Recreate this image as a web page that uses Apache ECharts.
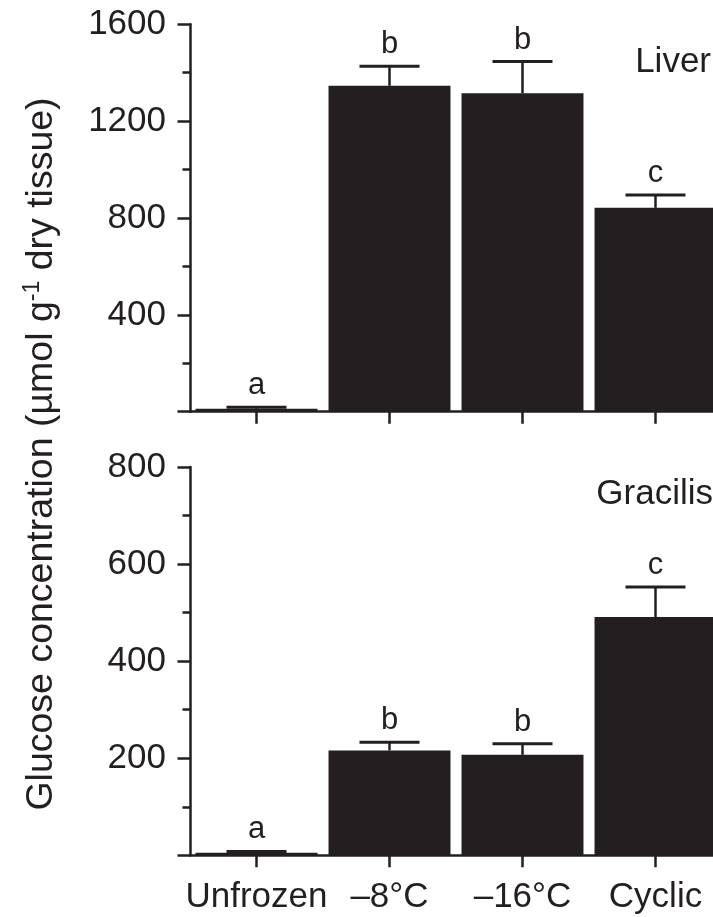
<!DOCTYPE html>
<html>
<head>
<meta charset="utf-8">
<script src="https://cdn.jsdelivr.net/npm/echarts@6/dist/echarts.min.js"></script>
<style>
html,body{margin:0;padding:0;background:#fff;}
#chart{width:713px;height:917px;}
</style>
</head>
<body>
<div id="chart"></div>
<script>
const categories = ['Unfrozen', '\u20138\u00b0C', '\u201316\u00b0C', 'Cyclic'];
const liverMean = [12, 1346, 1315, 842];
const liverErr = [6, 81, 131, 53];
const liverLetters = ['a', 'b', 'b', 'c'];
const gracilisMean = [5, 216, 207, 491];
const gracilisErr = [3, 17, 23, 62];
const gracilisLetters = ['a', 'b', 'b', 'c'];
const liverAxis = {min: 0, max: 1600, interval: 400};
const gracilisAxis = {min: 0, max: 800, interval: 200};

const INK = '#231f20';
const FONT = '"Liberation Sans", Arial, Helvetica, sans-serif';

function errRender(letters) {
  return function (params, api) {
    const i = api.value(0), m = api.value(1), e = api.value(2);
    const base = api.coord([i, m]);
    const top = api.coord([i, m + e]);
    const half = 30;
    return {
      type: 'group',
      children: [
        {type: 'line', shape: {x1: top[0], y1: base[1], x2: top[0], y2: top[1]},
         style: {stroke: INK, lineWidth: 2.5}},
        {type: 'line', shape: {x1: top[0] - half, y1: top[1], x2: top[0] + half, y2: top[1]},
         style: {stroke: INK, lineWidth: 3}},
        {type: 'text', x: top[0], y: top[1] - 6,
         style: {text: letters[i], fill: INK, fontSize: 31, fontFamily: FONT,
                 align: 'center', verticalAlign: 'bottom'}}
      ]
    };
  };
}

function yAxisCfg(gridIndex, ax) {
  return {
    type: 'value', gridIndex: gridIndex, min: ax.min, max: ax.max, interval: ax.interval,
    axisLine: {show: true, lineStyle: {color: INK, width: 2.5}},
    axisTick: {show: true, inside: false, length: 12.5, lineStyle: {color: INK, width: 2.5}},
    minorTick: {show: true, splitNumber: 2, length: 7.5, lineStyle: {color: INK, width: 2.5}},
    splitLine: {show: false},
    minorSplitLine: {show: false},
    axisLabel: {show: true, margin: 24, color: INK, fontSize: 35, fontFamily: FONT,
                formatter: function (v) { return v === 0 ? '' : String(v); }}
  };
}

function xAxisCfg(gridIndex, showLabels) {
  return {
    type: 'category', gridIndex: gridIndex, data: categories,
    axisLine: {show: true, lineStyle: {color: INK, width: 2.5}},
    axisTick: {show: true, alignWithLabel: true, inside: false, length: 12, lineStyle: {color: INK, width: 2.5}},
    splitLine: {show: false},
    axisLabel: {show: showLabels, interval: 0, margin: 25, color: INK, fontSize: 35, fontFamily: FONT}
  };
}

const chart = echarts.init(document.getElementById('chart'), null, {renderer: 'canvas'});
chart.setOption({
  animation: false,
  backgroundColor: '#ffffff',
  textStyle: {fontFamily: FONT, color: INK},
  grid: [
    {left: 190, top: 24.3, width: 532, height: 387.4, containLabel: false, outerBoundsMode: 'none'},
    {left: 190, top: 467, width: 532, height: 388.3, containLabel: false, outerBoundsMode: 'none'}
  ],
  xAxis: [xAxisCfg(0, false), xAxisCfg(1, true)],
  yAxis: [yAxisCfg(0, liverAxis), yAxisCfg(1, gracilisAxis)],
  series: [
    {type: 'bar', xAxisIndex: 0, yAxisIndex: 0, data: liverMean, barCategoryGap: '8.3%',
     itemStyle: {color: INK}, z: 2},
    {type: 'bar', xAxisIndex: 1, yAxisIndex: 1, data: gracilisMean, barCategoryGap: '8.3%',
     itemStyle: {color: INK}, z: 2},
    {type: 'custom', xAxisIndex: 0, yAxisIndex: 0, z: 3, clip: false,
     data: liverMean.map(function (m, i) { return [i, m, liverErr[i]]; }),
     renderItem: errRender(liverLetters)},
    {type: 'custom', xAxisIndex: 1, yAxisIndex: 1, z: 3, clip: false,
     data: gracilisMean.map(function (m, i) { return [i, m, gracilisErr[i]]; }),
     renderItem: errRender(gracilisLetters)}
  ],
  graphic: [
    {type: 'text', x: 711, y: 62,
     style: {text: 'Liver', fill: INK, fontSize: 35, fontFamily: FONT, align: 'right', verticalAlign: 'middle'}},
    {type: 'text', x: 713, y: 494,
     style: {text: 'Gracilis', fill: INK, fontSize: 35, fontFamily: FONT, align: 'right', verticalAlign: 'middle'}},
    {type: 'text', x: 42, y: 454, rotation: Math.PI / 2,
     style: {
       text: '{a|Glucose concentration (\u00b5mol g}{s|-1}{a| dry tissue)}',
       align: 'center', verticalAlign: 'middle',
       rich: {
         a: {fontSize: 37.5, fontFamily: FONT, fill: INK, color: INK, lineHeight: 42, verticalAlign: 'middle'},
         s: {fontSize: 23, fontFamily: FONT, fill: INK, color: INK, lineHeight: 42, verticalAlign: 'top'}
       }
     }}
  ]
});
</script>
</body>
</html>
